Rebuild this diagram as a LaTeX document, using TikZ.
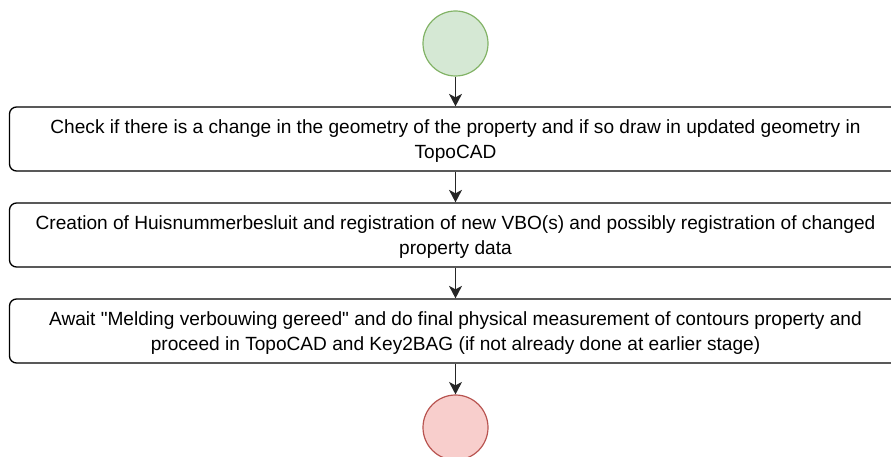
\documentclass[tikz,border=0pt]{standalone}
\usepackage{fontspec}
\setmainfont{Liberation Sans}[Ligatures=TeXOff]
\usetikzlibrary{arrows.meta}
\definecolor{gfill}{HTML}{D5E8D4}
\definecolor{gdraw}{HTML}{82B366}
\definecolor{rfill}{HTML}{F8CECC}
\definecolor{rdraw}{HTML}{B85450}
\begin{document}
\begin{tikzpicture}[x=1pt,y=-1pt,
  stepbox/.style={draw=black, line width=1.3pt, rounded corners=7pt, minimum width=892pt, minimum height=64pt, inner sep=0pt},
  steptext/.style={anchor=base, align=center, inner sep=0pt, font=\fontsize{19.1}{25}\selectfont},
  startc/.style={circle, draw=gdraw, fill=gfill, line width=1.2pt, minimum size=65pt, inner sep=0pt},
  endc/.style={circle, draw=rdraw, fill=rfill, line width=1.2pt, minimum size=65pt, inner sep=0pt},
  conn/.style={draw=black!85, line width=1.2pt, -{Stealth[length=12.5pt,width=13pt,inset=3.5pt]}}]
\useasboundingbox (0,0) rectangle (891,457);
\begin{scope}
\clip (0,0) rectangle (891,457);
\node[startc] (s) at (455.5,43.5) {};
\node[stepbox] (b1) at (455.5,139) {};
\node[steptext] (t1) at ([yshift=-52.5pt]b1.north) {Check if there is a change in the geometry of the property and if so draw in updated geometry in\\TopoCAD};
\node[stepbox] (b2) at (455.5,235) {};
\node[steptext] (t2) at ([yshift=-52pt]b2.north) {Creation of Huisnummerbesluit and registration of new VBO(s) and possibly registration of changed\\property data};
\node[stepbox] (b3) at (455.5,331) {};
\node[steptext] (t3) at ([yshift=-52.5pt]b3.north) {Await "Melding verbouwing gereed" and do final physical measurement of contours property and\\proceed in TopoCAD and Key2BAG (if not already done at earlier stage)};
\node[endc] (e) at (455.5,427.5) {};
\draw[conn] (s) -- (b1);
\draw[conn] (b1) -- (b2);
\draw[conn] (b2) -- (b3);
\draw[conn] (b3) -- (e);
\end{scope}
\end{tikzpicture}
\end{document}
